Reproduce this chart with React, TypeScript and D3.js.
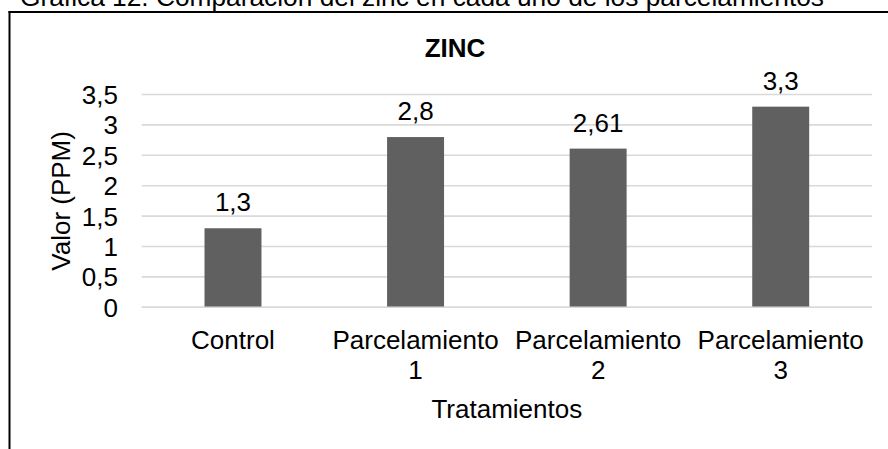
import React from "react";
import * as d3 from "d3";

const categories = ["Control", "Parcelamiento 1", "Parcelamiento 2", "Parcelamiento 3"];
const values = [1.3, 2.8, 2.61, 3.3];
const valueLabels = ["1,3", "2,8", "2,61", "3,3"];
const yTicks = [0, 0.5, 1, 1.5, 2, 2.5, 3, 3.5];
const caption = "Gráfica 12. Comparación del zinc en cada uno de los parcelamientos";
const chartTitle = "ZINC";
const yTitle = "Valor (PPM)";
const xTitle = "Tratamientos";

const W = 888;
const H = 449;
const FONT = "'Liberation Sans', Arial, sans-serif";

export default function App() {
  const left = 141.7;
  const right = 872;
  const top = 94.5;
  const bottom = 307.3;

  const x = d3
    .scaleBand<string>()
    .domain(categories)
    .range([left, right])
    .paddingInner(0.688)
    .paddingOuter(0.344);
  const y = d3.scaleLinear().domain([0, 3.5]).range([bottom, top]);
  const fmt = (v: number) => String(v).replace(".", ",");

  return (
    <svg
      width={W}
      height={H}
      style={{ position: "absolute", left: 0, top: 0, background: "#fff" }}
      fontFamily={FONT}
    >
      <rect x={0} y={0} width={W} height={H} fill="#fff" />
      <text x={20} y={6} fontSize={26.3} fill="#000">
        {caption}
      </text>
      <line x1={8.5} y1={12} x2={W} y2={12} stroke="#000" strokeWidth={2} />
      <line x1={9.5} y1={11} x2={9.5} y2={H} stroke="#000" strokeWidth={2} />

      <text x={455} y={56.7} fontSize={26} fontWeight="bold" textAnchor="middle" fill="#000">
        {chartTitle}
      </text>

      {yTicks.map((t) => (
        <g key={t}>
          <line x1={left} x2={right} y1={y(t)} y2={y(t)} stroke="#d9d9d9" strokeWidth={1.6} />
          <text x={118} y={y(t) + 9.5} fontSize={26} textAnchor="end" fill="#000">
            {fmt(t)}
          </text>
        </g>
      ))}

      {categories.map((c, i) => (
        <g key={c}>
          <rect
            x={x(c)!}
            y={y(values[i])}
            width={x.bandwidth()}
            height={y(0) - y(values[i])}
            fill="#606060"
          />
          <text
            x={x(c)! + x.bandwidth() / 2}
            y={y(values[i]) - 17}
            fontSize={26}
            textAnchor="middle"
            fill="#000"
          >
            {valueLabels[i]}
          </text>
        </g>
      ))}
      <line x1={left} x2={right} y1={y(0)} y2={y(0)} stroke="#d9d9d9" strokeWidth={1.6} />

      {categories.map((c) => {
        const cx = x(c)! + x.bandwidth() / 2;
        const lines = c.split(" ");
        return (
          <text key={c} x={cx} y={349} fontSize={26} textAnchor="middle" fill="#000">
            {lines.map((ln, j) => (
              <tspan key={j} x={cx} dy={j === 0 ? 0 : 30}>
                {ln}
              </tspan>
            ))}
          </text>
        );
      })}

      <text x={(left + right) / 2} y={418} fontSize={26} textAnchor="middle" fill="#000">
        {xTitle}
      </text>
      <text
        transform={`translate(70, ${(top + bottom) / 2}) rotate(-90)`}
        fontSize={26}
        textAnchor="middle"
        fill="#000"
      >
        {yTitle}
      </text>
    </svg>
  );
}
